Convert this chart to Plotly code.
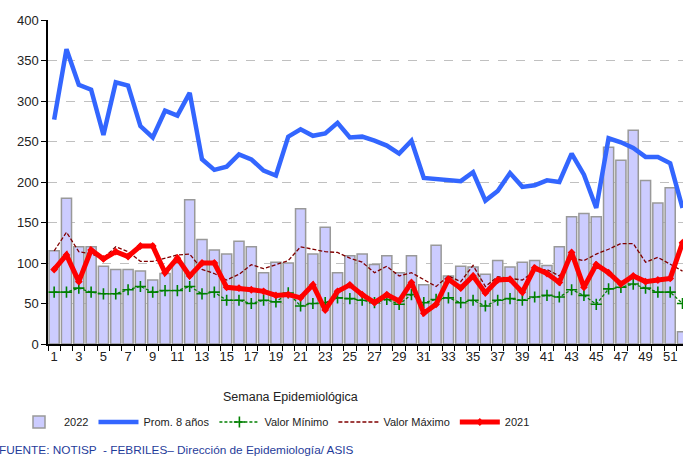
import plotly.graph_objects as go

weeks = list(range(1, 53))

casos_2022 = [115, 180, 120, 120, 96, 92, 92, 90, 79, 87, 100, 178, 129,
              116, 111, 127, 120, 88, 101, 100, 167, 111, 144, 88, 109, 111,
              98, 109, 88, 109, 73, 122, 84, 96, 95, 86, 103, 95, 101, 103,
              97, 120, 157, 161, 157, 243, 227, 264, 202, 174, 193, 15]

prom_8 = [277, 364, 320, 314, 258, 323, 319, 269, 255, 288, 282, 310, 228,
          215, 219, 234, 228, 214, 208, 256, 265, 257, 260, 273, 255, 256,
          251, 245, 235, 251, 205, 204, 202, 201, 212, 177, 189, 211, 194,
          196, 202, 200, 235, 209, 168, 254, 249, 242, 231, 231, 223, 168]

valor_min = [64, 64, 69, 64, 62, 62, 67, 71, 64, 66, 66, 71, 62, 64, 54,
             54, 50, 54, 52, 63, 47, 50, 51, 57, 56, 54, 51, 55, 49, 61,
             51, 55, 57, 51, 54, 47, 54, 56, 54, 58, 60, 58, 67, 60, 49,
             68, 70, 74, 69, 64, 64, 50]

valor_max = [115, 138, 114, 111, 106, 120, 114, 102, 102, 106, 110, 111,
             92, 87, 79, 86, 98, 93, 98, 103, 120, 117, 114, 113, 106, 101,
             88, 96, 84, 88, 79, 71, 84, 77, 97, 71, 83, 81, 79, 90, 92, 84,
             106, 103, 111, 117, 124, 124, 101, 107, 98, 90]

casos_2021 = [92, 110, 77, 116, 105, 114, 108, 121, 121, 88, 106, 84, 100,
              100, 70, 69, 67, 65, 60, 61, 57, 73, 42, 65, 73, 61, 51, 61,
              53, 76, 38, 49, 80, 69, 84, 63, 79, 80, 64, 94, 87, 76, 113,
              70, 98, 88, 74, 84, 77, 79, 81, 125]

x_tick_vals = list(range(1, 52, 2))
y_tick_vals = list(range(0, 401, 50))

FONT = "Liberation Sans, Arial, sans-serif"

fig = go.Figure()

fig.add_trace(go.Bar(
    x=weeks, y=casos_2022, name="2022",
    marker=dict(color="#CCCCFF", line=dict(color="#999999", width=1.5)),
    width=0.82,
))
fig.add_trace(go.Scatter(
    x=weeks, y=prom_8, name="Prom. 8 años", mode="lines",
    line=dict(color="#3366FF", width=4.5),
))
fig.add_trace(go.Scatter(
    x=weeks, y=valor_min, name="Valor Mínimo", mode="lines+markers",
    line=dict(color="#008000", width=1.3, dash="3px,2px"),
    marker=dict(symbol="cross-thin", size=8,
                line=dict(color="#008000", width=1.6)),
))
fig.add_trace(go.Scatter(
    x=weeks, y=valor_max, name="Valor Máximo", mode="lines",
    line=dict(color="#800000", width=1.3, dash="4px,2px"),
))
fig.add_trace(go.Scatter(
    x=weeks, y=casos_2021, name="2021", mode="lines+markers",
    line=dict(color="#FF0000", width=5),
    marker=dict(symbol="diamond", size=6, color="#FF0000"),
))

fig.update_layout(
    width=683, height=457,
    margin=dict(l=48, r=0, t=20, b=113, autoexpand=False),
    paper_bgcolor="white", plot_bgcolor="white",
    font=dict(family=FONT, size=13, color="#222222"),
    bargap=0.18,
    showlegend=True,
    legend=dict(
        orientation="h", xref="container", yref="container",
        x=14 / 683, xanchor="left", y=1 - 422 / 457, yanchor="middle",
        font=dict(family=FONT, size=11, color="#222222"),
        itemwidth=40, tracegroupgap=0, traceorder="normal",
        bgcolor="rgba(0,0,0,0)",
    ),
    annotations=[
        dict(text="Semana Epidemiológica", xref="paper", yref="paper",
             x=(290 - 48) / 635, y=(344 - 397) / 324,
             xanchor="center", yanchor="middle",
             showarrow=False, font=dict(family=FONT, size=12.5, color="#222222")),
        dict(text="FUENTE: NOTISP  - FEBRILES\u2013 Dirección de Epidemiología/ ASIS",
             xref="paper", yref="paper",
             x=(-3 - 48) / 635, y=(344 - 450) / 324,
             xanchor="left", yanchor="middle",
             showarrow=False, font=dict(family=FONT, size=11.8, color="#1F3C9A")),
    ],
)

fig.update_xaxes(
    range=[0.5, 52.04], automargin=False,
    tickmode="array", tickvals=x_tick_vals,
    ticks="", showgrid=False, zeroline=False,
    showline=True, linecolor="black", linewidth=1.5,
    tickfont=dict(family=FONT, size=13, color="#222222"),
    minor=dict(tickmode="array", tickvals=[w + 0.5 for w in range(0, 53)],
               ticks="outside", ticklen=5, tickcolor="black", tickwidth=1,
               showgrid=False),
)
fig.update_yaxes(
    range=[0, 400], automargin=False,
    tickmode="array", tickvals=y_tick_vals,
    ticks="outside", ticklen=5, tickcolor="black",
    showline=True, linecolor="black", linewidth=1.5,
    showgrid=True, gridcolor="#C0C0C0", griddash="dash", gridwidth=1.2,
    zeroline=False,
    tickfont=dict(family=FONT, size=13, color="#222222"),
)

fig.write_html(
    "out.html",
    config={"displayModeBar": False},
    post_script="document.body.style.margin='0';document.body.style.padding='0';",
)
